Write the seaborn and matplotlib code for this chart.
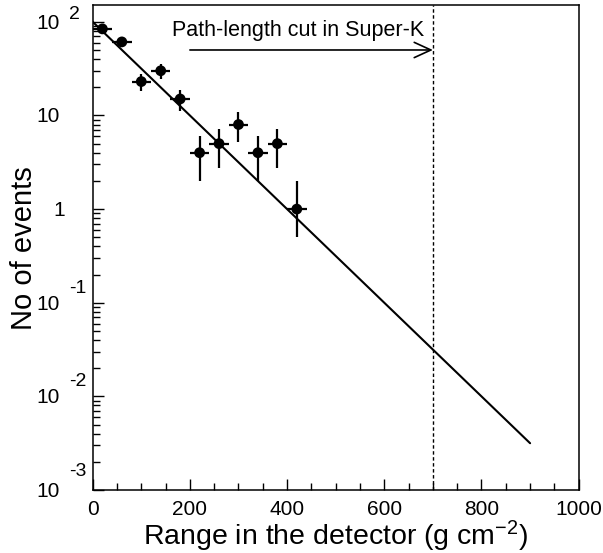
import numpy as np
import pandas as pd
import matplotlib
matplotlib.use("Agg")
import matplotlib.pyplot as plt
import seaborn as sns
from matplotlib.ticker import FixedLocator, LogLocator, MultipleLocator, NullFormatter

# ---- data ----
range_x = [20, 60, 100, 140, 180, 220, 260, 300, 340, 380, 420]
range_xerr = [20, 20, 20, 20, 20, 20, 20, 20, 20, 20, 20]
events = [84, 61, 23, 30, 15, 4, 5, 8, 4, 5, 1]
events_err_low = [9.2, 7.8, 4.8, 5.5, 3.9, 2.0, 2.24, 2.83, 2.0, 2.24, 0.5]
events_err_high = [9.2, 7.8, 4.8, 5.5, 3.9, 2.0, 2.24, 2.83, 2.0, 2.24, 1.0]
fit_x = [0, 900]
fit_y = [100, 0.00316]
cut_x = 700
arrow_from = 200
arrow_y = 50
annot_text = "Path-length cut in Super-K"
annot_pos = (163, 71)
ytick_vals = [1e-3, 1e-2, 1e-1, 1, 10, 100]
ytick_base = ["10", "10", "10", "1", "10", "10"]
ytick_exp = ["-3", "-2", "-1", "", "", "2"]
xtick_vals = [0, 200, 400, 600, 800, 1000]

sns.set_theme(style="white")
plt.rcParams['font.family'] = ['Liberation Sans', 'DejaVu Sans']
plt.rcParams['mathtext.fontset'] = 'custom'
plt.rcParams['mathtext.rm'] = 'Liberation Sans'
plt.rcParams['mathtext.it'] = 'Liberation Sans:italic'

fig = plt.figure(figsize=(6.03, 5.53), dpi=100)
ax = fig.add_axes([0.1537, 0.1139, 0.806, 0.8765])

pts = pd.DataFrame({"x": range_x, "y": events})
fit = pd.DataFrame({"x": fit_x, "y": fit_y})

sns.lineplot(data=fit, x="x", y="y", ax=ax, color="black", lw=1.5, zorder=2)
ax.errorbar(range_x, events, xerr=range_xerr,
            yerr=[events_err_low, events_err_high],
            fmt="none", ecolor="black", elinewidth=1.6, capsize=0, zorder=3)
sns.scatterplot(data=pts, x="x", y="y", ax=ax, color="black", s=60,
                edgecolor="none", zorder=4)

ax.set_yscale("log")
ax.set_xlim(0, 1000)
ax.set_ylim(1e-3, 150)

ax.axvline(cut_x, color="black", lw=1.0, ls=(0, (2.5, 1.8)), zorder=1)
ax.annotate("", xy=(cut_x, arrow_y), xytext=(arrow_from, arrow_y),
            arrowprops=dict(arrowstyle="->,head_length=1.2,head_width=0.55",
                            color="black", lw=1.2, mutation_scale=10,
                            shrinkA=0, shrinkB=0))
ax.text(annot_pos[0], annot_pos[1], annot_text, fontsize=15.5, ha="left",
        va="baseline", color="black")

# ticks
ax.xaxis.set_major_locator(FixedLocator(xtick_vals))
ax.xaxis.set_minor_locator(MultipleLocator(50))
ax.set_xticklabels([str(v) for v in xtick_vals])
ax.yaxis.set_major_locator(FixedLocator(ytick_vals))
ax.yaxis.set_minor_locator(LogLocator(base=10, subs=np.arange(2, 10)))
ax.yaxis.set_major_formatter(NullFormatter())
ax.yaxis.set_minor_formatter(NullFormatter())
ax.tick_params(axis="both", which="both", direction="in", top=False,
               right=False, left=True, bottom=True, color="black", width=1.0)
ax.tick_params(axis="both", which="major", length=8)
ax.tick_params(axis="both", which="minor", length=4.7)
ax.tick_params(axis="x", which="major", labelsize=15, pad=7, labelcolor="black")

exp_dy = {"-3": 14, "-2": 11.5, "-1": 11.5, "2": 6.5}
for v, b, e in zip(ytick_vals, ytick_base, ytick_exp):
    ax.annotate(b, xy=(0, v), xycoords=("axes fraction", "data"),
                xytext=(-23.5 if b == "10" else -20, -1), textcoords="offset points",
                ha="right", va="center", fontsize=15, color="black",
                annotation_clip=False)
    if e:
        ax.annotate(e, xy=(0, v), xycoords=("axes fraction", "data"),
                    xytext=(-17, -1 + exp_dy[e]), textcoords="offset points",
                    ha="left", va="center", fontsize=14, color="black",
                    annotation_clip=False)

for s in ax.spines.values():
    s.set_color("black")
    s.set_linewidth(1.1)

ax.set_xlabel(r"Range in the detector (g cm$^{-2}$)", fontsize=20.5,
              color="black", labelpad=0)
ax.set_ylabel("No of events", fontsize=21, color="black")
ax.yaxis.set_label_coords(-0.112, 0.5)

fig.savefig("out.png", dpi=100)
